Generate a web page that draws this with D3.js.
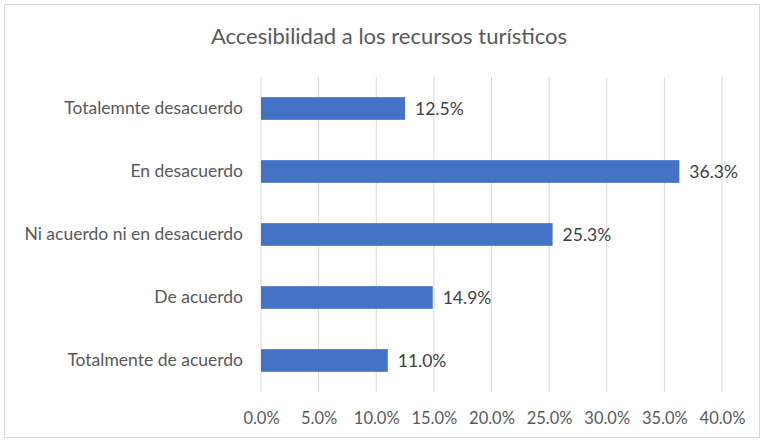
<!doctype html>
<html lang="en">
<head>
    <meta charset="utf-8">
    <title>Accesibilidad a los recursos turísticos</title>
    <script src="https://d3js.org/d3.v7.min.js"></script>
    <style>
        body { margin: 0; background: #fff; }
        svg { display: block; }
    </style>
</head>
<body>
<script>
    const categories = [
        "Totalemnte desacuerdo",
        "En desacuerdo",
        "Ni acuerdo ni en desacuerdo",
        "De acuerdo",
        "Totalmente de acuerdo"
    ]
    const values = [12.5, 36.3, 25.3, 14.9, 11.0]
    const tickValues = [0, 5, 10, 15, 20, 25, 30, 35, 40]
    const title = "Accesibilidad a los recursos turísticos"

    const width = 764
    const height = 441
    const margin = { top: 77, right: 42, bottom: 49, left: 261 }
    const font = "Lato, 'Open Sans', sans-serif"

    const svg = d3.select("body").append("svg")
        .attr("width", width)
        .attr("height", height)
        .attr("font-family", font)

    // chart border
    svg.append("rect")
        .attr("x", 4.5).attr("y", 4.5)
        .attr("width", width - 9).attr("height", height - 8)
        .attr("fill", "#fff")
        .attr("stroke", "#d9d9d9")

    svg.append("text")
        .attr("x", 389).attr("y", 44)
        .attr("text-anchor", "middle")
        .attr("font-size", 22)
        .attr("fill", "#595959")
        .text(title)

    let x = d3.scaleLinear()
        .domain([0, 40])
        .range([margin.left, width - margin.right])

    let y = d3.scaleBand()
        .domain(categories)
        .range([margin.top, height - margin.bottom])
        .paddingInner(0.64)
        .paddingOuter(0.32)

    // gridlines
    svg.append("g")
        .selectAll("line")
        .data(tickValues)
        .join("line")
        .attr("x1", d => x(d)).attr("x2", d => x(d))
        .attr("y1", margin.top).attr("y2", height - margin.bottom)
        .attr("stroke", "#d9d9d9")
        .attr("stroke-width", 1)

    // x tick labels
    const xAxis = svg.append("g")
        .attr("transform", `translate(0,${height - margin.bottom})`)
        .call(d3.axisBottom(x).tickValues(tickValues).tickSize(0).tickPadding(20)
            .tickFormat(d => d.toFixed(1) + "%"))
    xAxis.select(".domain").remove()
    xAxis.selectAll("text")
        .attr("font-family", font)
        .attr("font-size", 16.5)
        .attr("fill", "#595959")

    // category labels
    const yAxis = svg.append("g")
        .attr("transform", `translate(${margin.left},0)`)
        .call(d3.axisLeft(y).tickSize(0).tickPadding(18))
    yAxis.select(".domain").remove()
    yAxis.selectAll("text")
        .attr("font-family", font)
        .attr("font-size", 17.5)
        .attr("fill", "#595959")

    // bars
    svg.append("g")
        .selectAll("rect")
        .data(values)
        .join("rect")
        .attr("x", x(0))
        .attr("y", (d, i) => y(categories[i]))
        .attr("width", d => x(d) - x(0))
        .attr("height", y.bandwidth())
        .attr("fill", "#4472c4")

    // value labels
    svg.append("g")
        .selectAll("text")
        .data(values)
        .join("text")
        .attr("x", d => x(d) + 10)
        .attr("y", (d, i) => y(categories[i]) + y.bandwidth() / 2)
        .attr("dy", "0.35em")
        .attr("font-size", 17.5)
        .attr("fill", "#404040")
        .text(d => d.toFixed(1) + "%")
</script>
</body>
</html>
